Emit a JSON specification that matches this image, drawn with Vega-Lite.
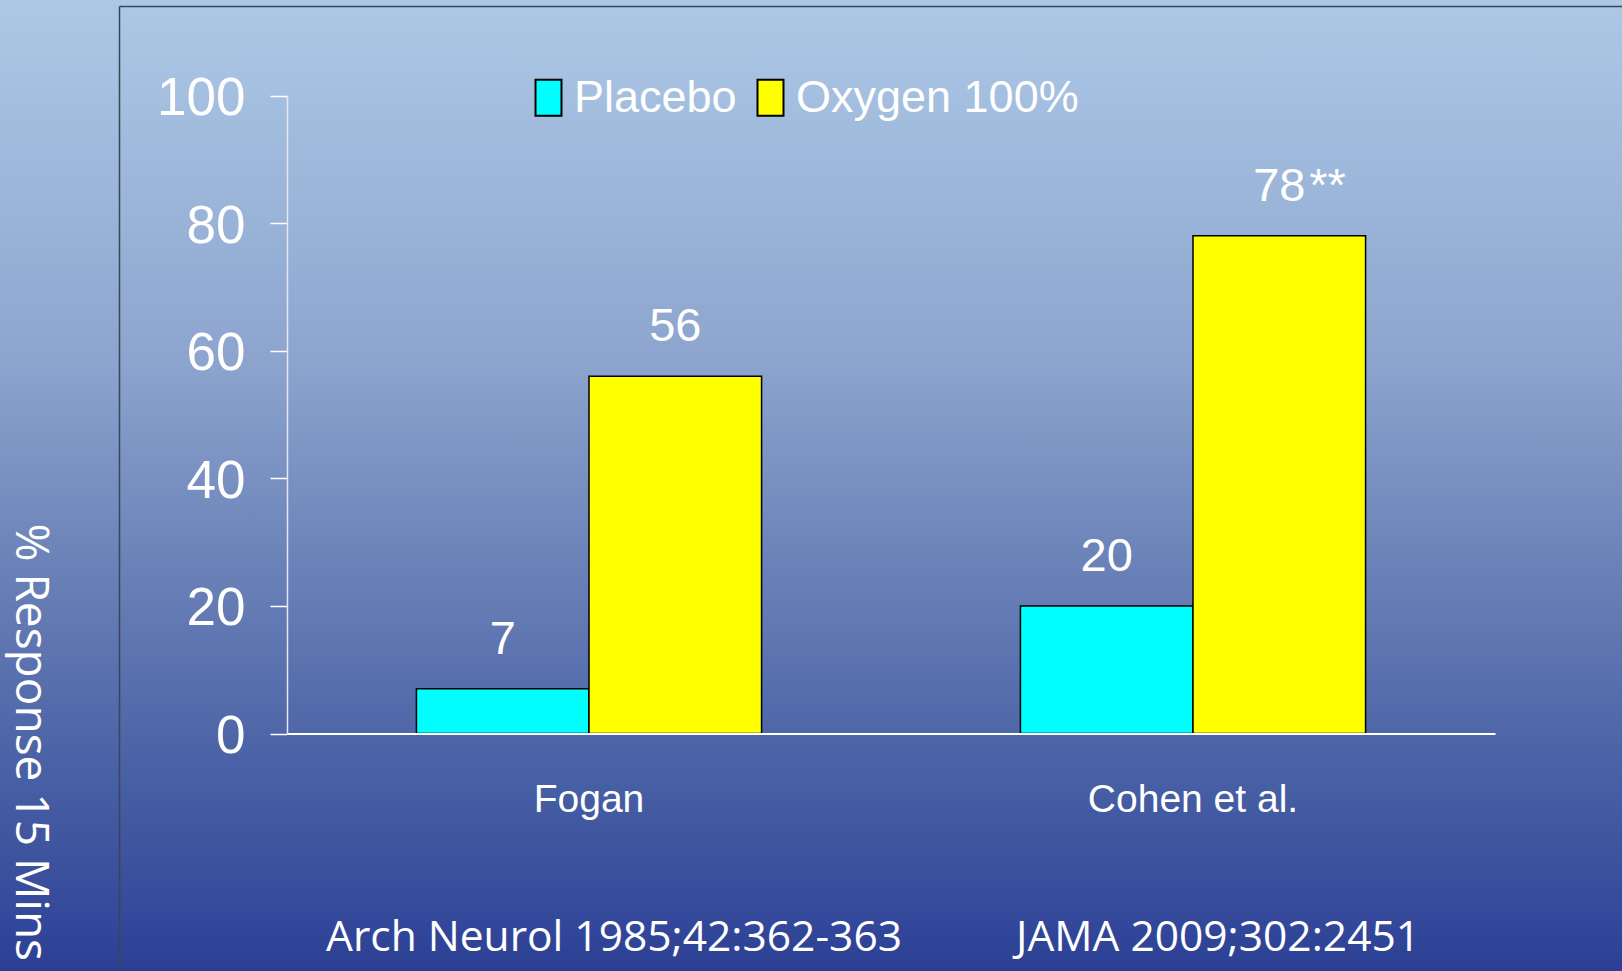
{
  "$schema": "https://vega.github.io/schema/vega-lite/v6.json",
  "width": 1622,
  "height": 971,
  "autosize": {"type": "none"},
  "padding": 0,
  "config": {
    "view": {
      "stroke": null,
      "fill": {
        "gradient": "linear",
        "x1": 0, "y1": 0, "x2": 0, "y2": 1,
        "stops": [
          {"offset": 0, "color": "#adc8e6"},
          {"offset": 0.36, "color": "#8ea6cf"},
          {"offset": 0.58, "color": "#6b82b8"},
          {"offset": 0.8, "color": "#4860a4"},
          {"offset": 0.95, "color": "#33489a"},
          {"offset": 1, "color": "#2b3f94"}
        ]
      }
    }
  },
  "layer": [
    {
      "data": {"values": []},
      "mark": {"type": "rule"},
      "encoding": {
        "x": {
          "field": "fx", "type": "quantitative",
          "scale": {"domain": [0, 1], "range": [119, 1622], "nice": false, "zero": false},
          "axis": {"orient": "top", "offset": -6, "labels": false, "ticks": false, "grid": false, "domain": true, "domainColor": "#3a4555", "domainWidth": 1.5, "title": null}
        },
        "y": {
          "field": "fy", "type": "quantitative",
          "scale": {"domain": [0, 1], "range": [971, 6], "nice": false, "zero": false},
          "axis": {
            "orient": "left", "offset": -119, "labels": false, "ticks": false, "grid": false, "domain": true,
            "domainColor": "#3a4555", "domainWidth": 1.5,
            "title": "% Response 15 Mins", "titleAngle": 90, "titleX": -104, "titleY": 523,
            "titleAlign": "left", "titleBaseline": "alphabetic", "titleFont": "Open Sans",
            "titleFontSize": 46, "titleFontWeight": "normal", "titleColor": "white"
          }
        }
      }
    },
    {
      "data": {
        "values": [
          {"study": "Fogan", "cite": "Arch Neurol 1985;42:362-363", "treatment": "Placebo", "value": 7, "sig": ""},
          {"study": "Fogan", "cite": "Arch Neurol 1985;42:362-363", "treatment": "Oxygen 100%", "value": 56, "sig": ""},
          {"study": "Cohen et al.", "cite": "JAMA 2009;302:2451", "treatment": "Placebo", "value": 20, "sig": ""},
          {"study": "Cohen et al.", "cite": "JAMA 2009;302:2451", "treatment": "Oxygen 100%", "value": 78, "sig": "**"}
        ]
      },
      "encoding": {
        "y": {
          "field": "value", "type": "quantitative",
          "scale": {"domain": [0, 100], "range": [733.5, 95.5], "nice": false},
          "axis": {
            "orient": "left", "offset": -287, "values": [0, 20, 40, 60, 80, 100], "grid": false, "title": null,
            "domain": true, "domainColor": "#e3e8f3", "domainWidth": 1.5,
            "ticks": true, "tickColor": "white", "tickWidth": 1.5, "tickSize": 17,
            "labelFont": "Liberation Sans, Arial, sans-serif", "labelFontSize": 53, "labelColor": "white", "labelPadding": 25, "labelOffset": 3
          }
        },
        "xOffset": {"field": "treatment", "type": "nominal", "sort": ["Placebo", "Oxygen 100%"]}
      },
      "layer": [
        {
          "mark": {"type": "bar", "stroke": "black", "strokeWidth": 1.5},
          "encoding": {
            "x": {
              "field": "study", "type": "nominal", "sort": ["Fogan", "Cohen et al."],
              "scale": {"range": [287, 1495], "paddingInner": 0.428571, "paddingOuter": 0.214286},
              "axis": {
                "orient": "bottom", "offset": -237.5, "title": null, "zindex": 1,
                "domain": true, "domainColor": "white", "domainWidth": 2,
                "ticks": false, "tickSize": 0, "labelAngle": 0,
                "labelFont": "Liberation Sans, Arial, sans-serif", "labelFontSize": 39, "labelColor": "white",
                "labelBaseline": "alphabetic", "labelPadding": 78, "labelLimit": 0
              }
            },
            "color": {
              "field": "treatment", "type": "nominal",
              "scale": {"domain": ["Placebo", "Oxygen 100%"], "range": ["#00ffff", "#ffff00"]},
              "legend": {
                "title": null, "orient": "none", "direction": "horizontal",
                "legendX": 526, "legendY": 75, "padding": 0,
                "symbolType": "M-0.722,-1L0.722,-1L0.722,1L-0.722,1Z", "symbolSize": 1296,
                "symbolStrokeColor": "black", "symbolStrokeWidth": 2, "symbolOpacity": 1,
                "labelFont": "Liberation Sans, Arial, sans-serif", "labelFontSize": 45, "labelColor": "white",
                "labelOffset": 3, "columnPadding": 11, "labelLimit": 0
              }
            }
          }
        },
        {
          "mark": {"type": "text", "font": "Liberation Sans, Arial, sans-serif", "fontSize": 47, "color": "white", "baseline": "alphabetic", "dy": -35},
          "encoding": {
            "x": {
              "field": "cite", "type": "nominal", "sort": ["Arch Neurol 1985;42:362-363", "JAMA 2009;302:2451"],
              "scale": {"range": [287, 1495], "paddingInner": 0.428571, "paddingOuter": 0.214286},
              "axis": {
                "orient": "bottom", "offset": -237.5, "title": null,
                "domain": false, "ticks": false, "tickSize": 0, "labelAngle": 0,
                "labelFont": "Open Sans", "labelFontSize": 42.5, "labelColor": "white",
                "labelBaseline": "alphabetic", "labelPadding": 217, "labelOffset": 25, "labelLimit": 0
              }
            },
            "text": {"field": "value", "type": "quantitative"}
          }
        },
        {
          "transform": [{"filter": "datum.sig != ''"}],
          "mark": {"type": "text", "font": "Liberation Sans, Arial, sans-serif", "fontSize": 47, "color": "white", "baseline": "alphabetic", "align": "left", "dy": -35, "dx": 30},
          "encoding": {
            "x": {
              "field": "study", "type": "nominal", "sort": ["Fogan", "Cohen et al."],
              "scale": {"domain": ["Fogan", "Cohen et al."], "range": [287, 1495], "paddingInner": 0.428571, "paddingOuter": 0.214286},
              "axis": null
            },
            "xOffset": {"field": "treatment", "type": "nominal", "sort": ["Placebo", "Oxygen 100%"], "scale": {"domain": ["Placebo", "Oxygen 100%"]}},
            "text": {"field": "sig", "type": "nominal"}
          }
        }
      ],
      "resolve": {"scale": {"x": "independent", "xOffset": "independent"}, "axis": {"x": "independent"}}
    }
  ],
  "resolve": {"scale": {"x": "independent", "y": "independent"}, "axis": {"x": "independent", "y": "independent"}}
}
